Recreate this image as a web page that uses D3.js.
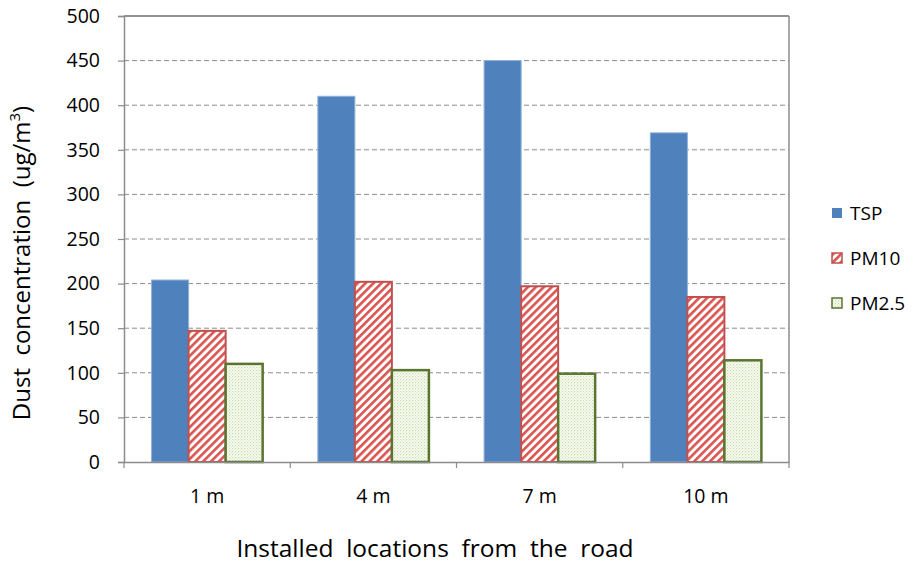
<!DOCTYPE html>
<html>
<head>
<meta charset="utf-8">
<script src="https://cdn.jsdelivr.net/npm/d3@7"></script>
<style>
  html, body { margin: 0; padding: 0; background: #fff; }
  svg text { font-family: "Open Sans", "Noto Sans", sans-serif; fill: #000; white-space: pre; }
</style>
</head>
<body>
<svg id="chart" width="915" height="563"></svg>
<script>
// Dust concentration by distance from the road
const categories = ["1 m", "4 m", "7 m", "10 m"];
const seriesNames = ["TSP", "PM10", "PM2.5"];
const tsp  = [204, 410, 450, 369];
const pm10 = [147, 202, 197, 185];
const pm25 = [110, 103, 99, 114];
const yTicks = [0, 50, 100, 150, 200, 250, 300, 350, 400, 450, 500];

const seriesValues = [tsp, pm10, pm25];

const svg = d3.select("#chart");
const margin = { left: 124, right: 126, top: 16, bottom: 101 };
const W = 915, H = 563;
const plotW = W - margin.left - margin.right;
const plotH = H - margin.top - margin.bottom;

const defs = svg.append("defs");

// diagonal hatch for PM10
const hatch = defs.append("pattern")
  .attr("id", "hatch").attr("patternUnits", "userSpaceOnUse")
  .attr("width", 5.6).attr("height", 5.6)
  .attr("patternTransform", "rotate(45)");
hatch.append("rect").attr("width", 5.6).attr("height", 5.6).attr("fill", "#fff");
hatch.append("rect").attr("x", 0).attr("y", 0).attr("width", 2.6).attr("height", 5.6)
  .attr("fill", "#D9534F");

// fine dots for PM2.5
const dots = defs.append("pattern")
  .attr("id", "dots").attr("patternUnits", "userSpaceOnUse")
  .attr("width", 3).attr("height", 3);
dots.append("rect").attr("width", 3).attr("height", 3).attr("fill", "#FAFCF5");
dots.append("rect").attr("x", 0).attr("y", 0).attr("width", 1.2).attr("height", 1.2).attr("fill", "#C6D9A6");
dots.append("rect").attr("x", 1.5).attr("y", 1.5).attr("width", 1.2).attr("height", 1.2).attr("fill", "#D7E4BF");

const styles = [
  { fill: "#4F81BD", stroke: "#8EB0DA", sw: 1 },
  { fill: "url(#hatch)", stroke: "#C0504D", sw: 2 },
  { fill: "url(#dots)", stroke: "#5A7530", sw: 2.5 }
];

const g = svg.append("g").attr("transform", `translate(${margin.left},${margin.top})`);

const x0 = d3.scaleBand().domain(categories).range([0, plotW]).paddingInner(0).paddingOuter(0);
const x1 = d3.scaleBand().domain(seriesNames).range([x0.bandwidth() * 0.166, x0.bandwidth() * 0.834]).padding(0);
const y = d3.scaleLinear().domain([0, 500]).range([plotH, 0]);

// gridlines
g.append("g").selectAll("line").data(yTicks.filter(t => t > 0 && t < 500)).join("line")
  .attr("x1", 0).attr("x2", plotW)
  .attr("y1", d => y(d)).attr("y2", d => y(d))
  .attr("stroke", "#8C8C8C").attr("stroke-width", 1).attr("stroke-dasharray", "5,3");

// bars
seriesValues.forEach((vals, si) => {
  const st = styles[si];
  g.append("g").selectAll("rect").data(vals).join("rect")
    .attr("x", (d, i) => x0(categories[i]) + x1(seriesNames[si]))
    .attr("y", d => y(d))
    .attr("width", x1.bandwidth())
    .attr("height", d => plotH - y(d))
    .attr("fill", st.fill)
    .attr("stroke", st.stroke)
    .attr("stroke-width", st.sw);
});

// frame
g.append("line").attr("x1", 0).attr("x2", plotW).attr("y1", 0).attr("y2", 0)
  .attr("stroke", "#6E6E6E").attr("stroke-width", 1.5);
g.append("line").attr("x1", plotW).attr("x2", plotW).attr("y1", 0).attr("y2", plotH)
  .attr("stroke", "#8C8C8C").attr("stroke-width", 1.5);

// y axis
const yAxis = d3.axisLeft(y).tickValues(yTicks).tickSize(6).tickPadding(18);
const ya = g.append("g").call(yAxis);
ya.select(".domain").attr("stroke", "#8C8C8C").attr("stroke-width", 1.5);
ya.selectAll(".tick line").attr("stroke", "#8C8C8C").attr("stroke-width", 1.2);
ya.selectAll(".tick text").attr("font-size", 19.5).attr("font-family", "'Open Sans', sans-serif").attr("fill", "#000");

// x axis with boundary ticks
const xa = g.append("g").attr("transform", `translate(0,${plotH})`)
  .call(d3.axisBottom(x0).tickSize(0).tickPadding(27));
xa.select(".domain").attr("stroke", "#8C8C8C").attr("stroke-width", 1.5);
xa.selectAll(".tick text").attr("font-size", 19.5).attr("font-family", "'Open Sans', sans-serif").attr("fill", "#000");
const bounds = categories.map(c => x0(c)).concat([plotW]);
xa.selectAll(".bound").data(bounds).join("line").attr("class", "bound")
  .attr("x1", d => d).attr("x2", d => d).attr("y1", 0).attr("y2", 6)
  .attr("stroke", "#8C8C8C").attr("stroke-width", 1.2);

// axis titles
svg.append("text")
  .attr("x", 435).attr("y", 557)
  .attr("text-anchor", "middle").attr("font-size", 24.5)
  .text("Installed  locations  from  the  road");

const yt = svg.append("text")
  .attr("transform", `translate(30,${263}) rotate(-90)`)
  .attr("text-anchor", "middle").attr("font-size", 24);
yt.append("tspan").text("Dust  concentration  (ug/m");
yt.append("tspan").attr("font-size", 15).attr("dy", -10).text("3");
yt.append("tspan").attr("dy", 10).text(")");

// legend
const lg = svg.append("g").attr("transform", "translate(832,0)");
const legendY = [213, 258, 303];
seriesNames.forEach((name, i) => {
  const st = styles[i];
  lg.append("rect").attr("x", 0).attr("y", legendY[i] - 5).attr("width", 10).attr("height", 10)
    .attr("fill", st.fill).attr("stroke", st.stroke).attr("stroke-width", i === 0 ? 0 : 1.5);
  lg.append("text").attr("x", 18).attr("y", legendY[i]).attr("dy", "0.35em")
    .attr("font-size", 19).text(name);
});
</script>
</body>
</html>
